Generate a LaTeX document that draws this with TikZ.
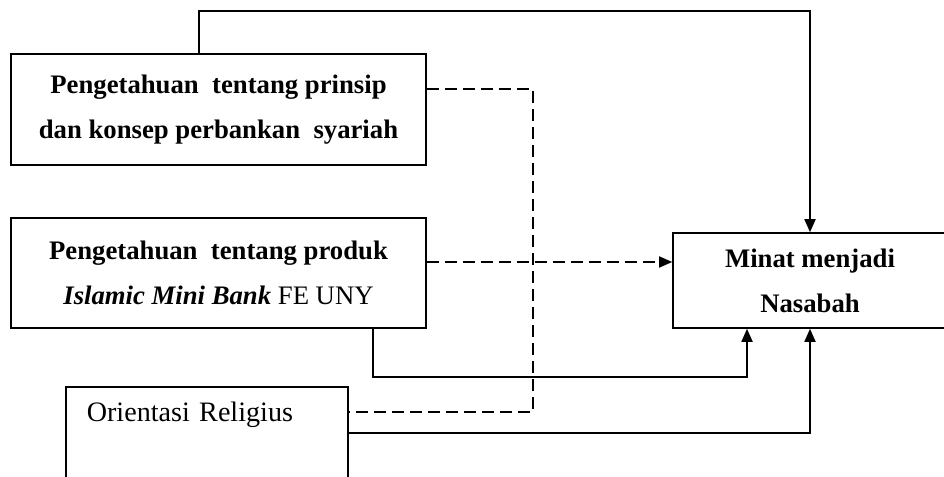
\documentclass[tikz,border=0pt]{standalone}
\usepackage{fontspec}
\setmainfont{Liberation Serif}
\usetikzlibrary{arrows.meta}

\begin{document}
\begin{tikzpicture}[x=0.025cm, y=-0.025cm, line width=1.1pt,
  >={Triangle[length=3.3mm,width=2.8mm]},
  kotak/.style={draw, align=center, font=\fontsize{19}{32}\selectfont\bfseries},
  putus/.style={dash pattern=on 3mm off 1.5mm}]
\useasboundingbox (0,0) rectangle (944,477);

\node[kotak, minimum width=10.375cm, minimum height=2.775cm] (prinsip) at (218.5,109.5)
  {Pengetahuan\ \ tentang prinsip\\dan konsep perbankan\ \ syariah};
\node[kotak, minimum width=10.375cm, minimum height=2.75cm] (produk) at (218.5,273)
  {Pengetahuan\ \ tentang produk\\\textit{Islamic Mini Bank} {\mdseries FE UNY}};
\node[draw, anchor=north west, align=left, text width=6cm, inner xsep=0.525cm, inner ysep=0.2cm,
  text height=0.675cm, text depth=2cm, font=\fontsize{20}{32}\selectfont] (religius) at (65,386)
  {Orientasi\ Religius};
\node[kotak, minimum width=6.85cm, minimum height=2.375cm] (minat) at (810,280.5)
  {Minat menjadi\\Nasabah};

\coordinate (atas) at (199,11);
\draw[->] (prinsip.north -| atas) -- (atas) -| (minat.north);

\coordinate (belok1) at (533,89); \coordinate (belok2) at (533,412);
\draw[putus] (prinsip.east |- belok1) -- (belok1) -- (belok2) -- (religius.east |- belok2);

\coordinate (tengah) at (600,262);
\draw[putus,->] (produk.east |- tengah) -- (minat.west |- tengah);

\coordinate (bawah1) at (373,377); \coordinate (naik1) at (747,377);
\draw[->] (produk.south -| bawah1) -- (bawah1) -| (minat.south -| naik1);

\coordinate (bawah2) at (810,433);
\draw[->] (religius.east |- bawah2) -| (minat.south);

\end{tikzpicture}
\end{document}
